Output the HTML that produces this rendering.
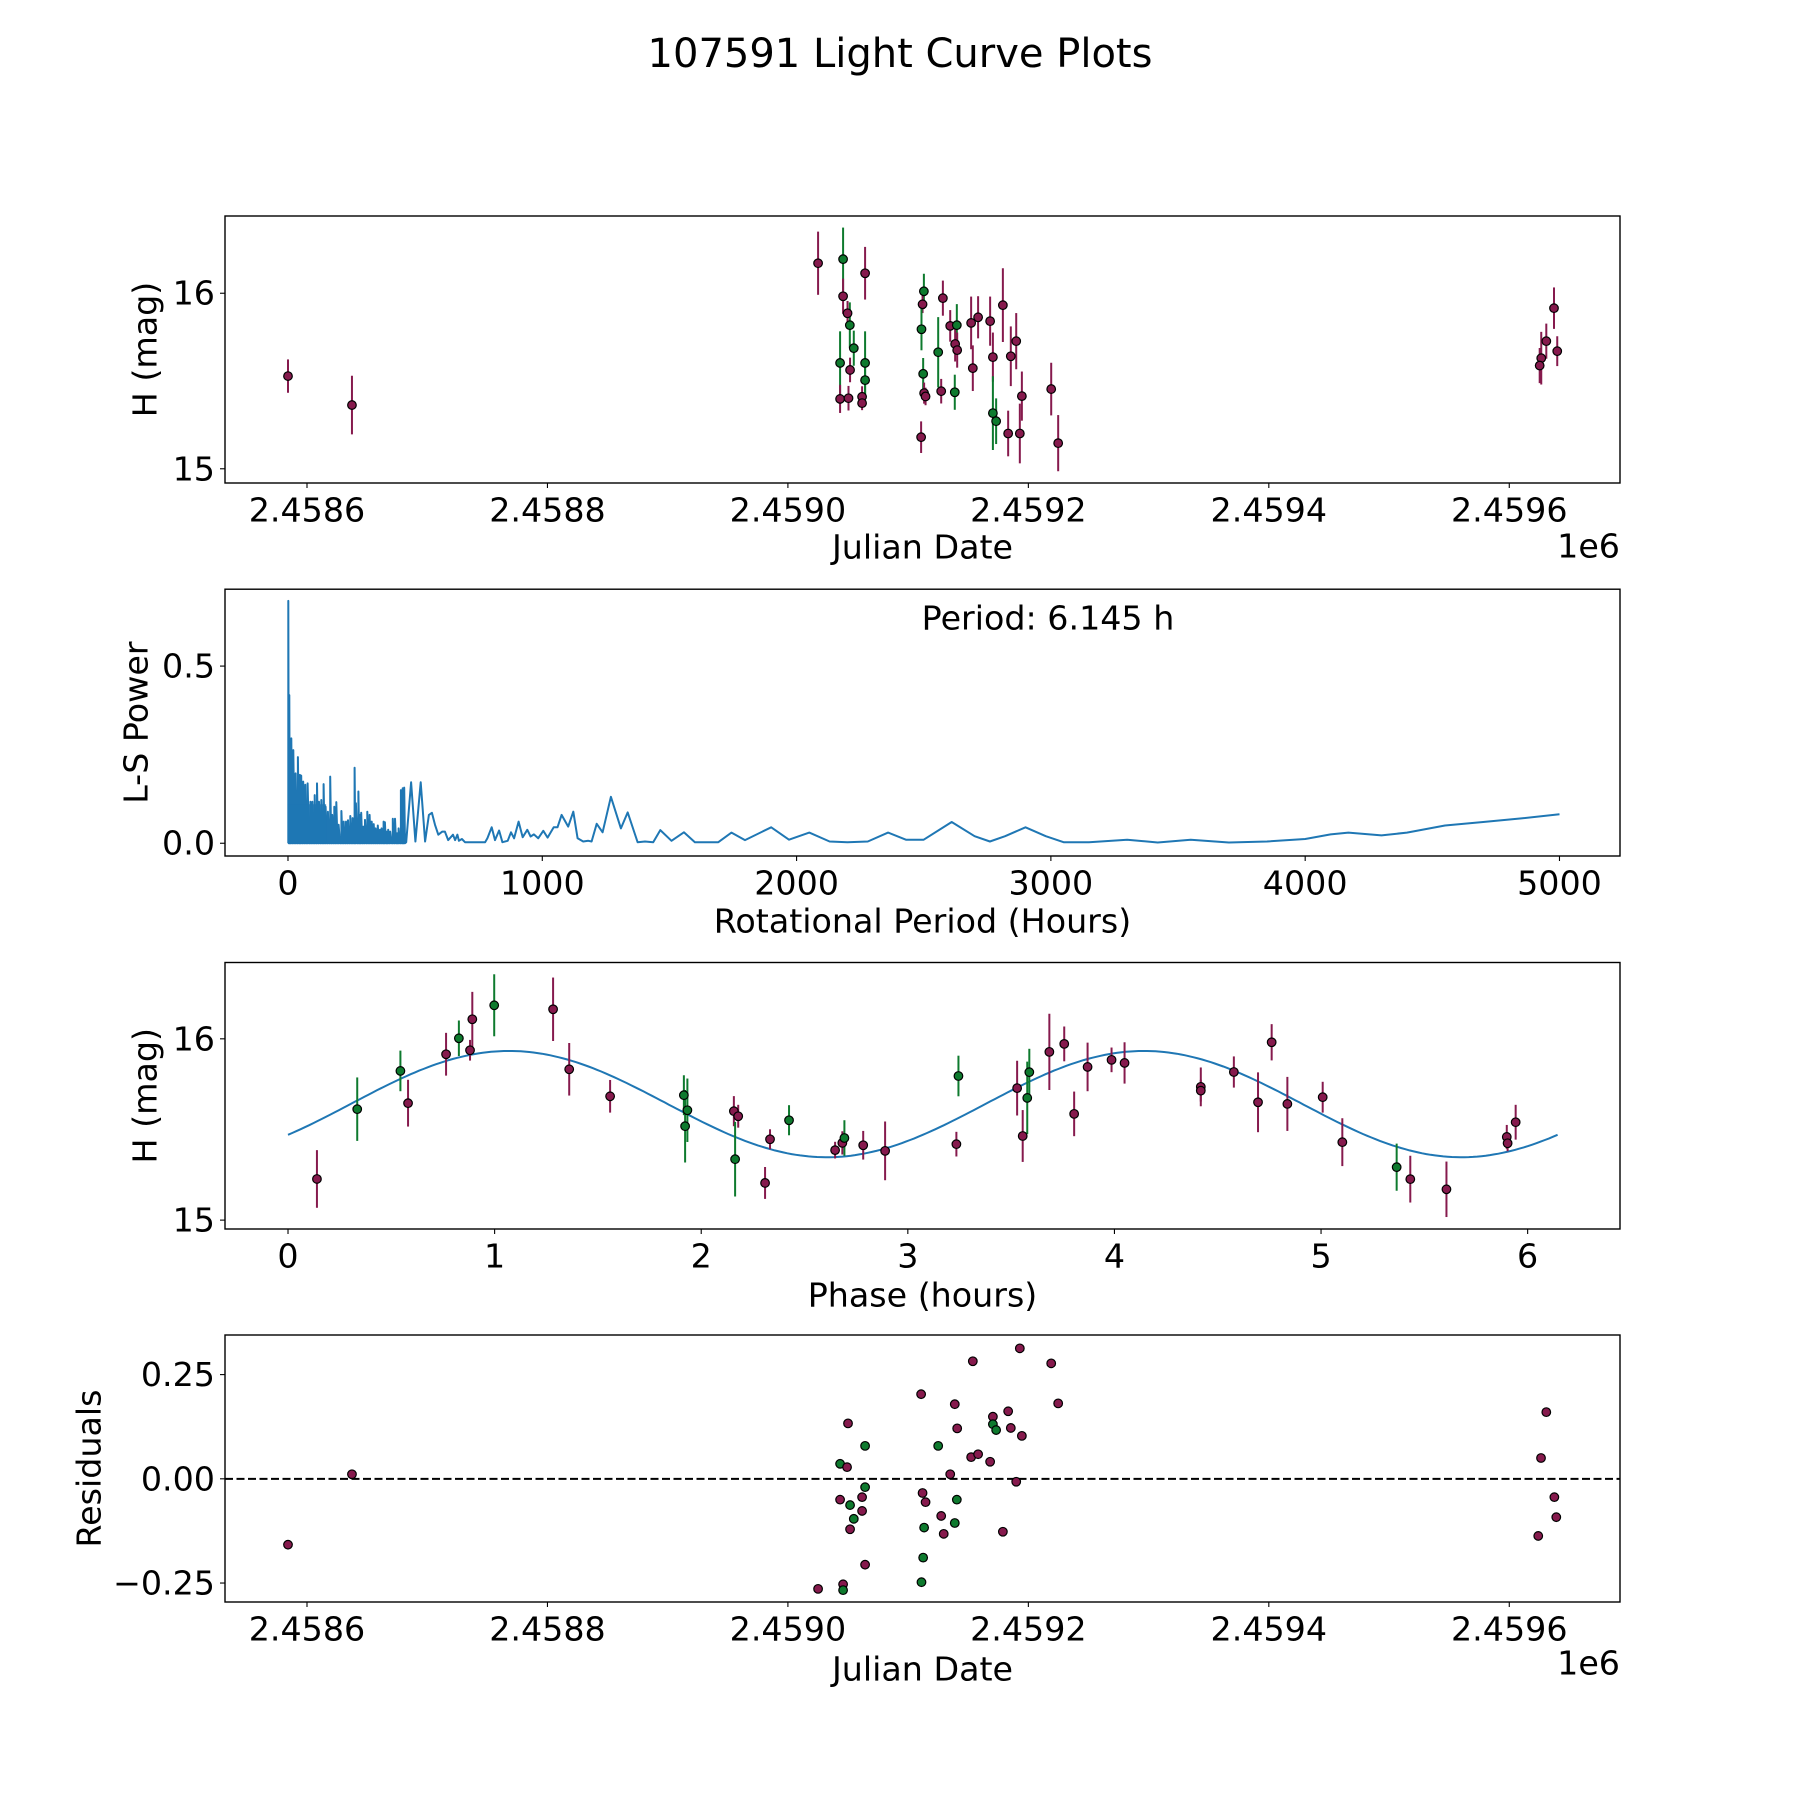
<!DOCTYPE html>
<html><head><meta charset="utf-8"><style>
html,body{margin:0;padding:0;background:#fff;}
svg{display:block;font-family:"DejaVu Sans","Liberation Sans",sans-serif;}
</style></head><body>
<svg id="fig" width="1800" height="1800" viewBox="0 0 1800 1800" xmlns="http://www.w3.org/2000/svg">
<rect width="1800" height="1800" fill="#fff"/>
<text x="900" y="54" font-size="40" text-anchor="middle" dominant-baseline="central">107591 Light Curve Plots</text>
</svg>
<script>
// ---- Panel 1 data: Julian date offsets (from 2458600), magnitudes, errors, filter ----
const jdBase = 2458600;
const lcDays = [-15.8,37.4,425.1,445.9,464.2,445.9,449.6,451.5,454.8,443.4,451.7,464.2,464.2,443.4,450.4,461.7,461.7,513.1,512.0,511.1,528.9,535.0,540.5,539.1,540.8,552.4,558.2,568.2,578.8,525.0,512.5,553.8,570.5,585.4,589.9,513.3,514.5,527.5,538.8,594.6,570.5,573.2,583.2,592.9,510.8,619.0,624.8,1037.2,1030.8,1039.9,1026.6,1025.3];
const lcMag = [15.528,15.363,16.171,16.194,16.114,15.983,15.886,15.818,15.687,15.603,15.563,15.603,15.505,15.398,15.402,15.410,15.374,16.011,15.937,15.795,15.972,15.814,15.818,15.711,15.676,15.831,15.863,15.841,15.932,15.664,15.541,15.573,15.636,15.641,15.727,15.431,15.412,15.442,15.436,15.414,15.317,15.271,15.201,15.201,15.180,15.454,15.146,15.915,15.727,15.670,15.630,15.588];
const lcErr = [0.095,0.167,0.18,0.18,0.15,0.1,0.07,0.13,0.1,0.18,0.07,0.18,0.1,0.08,0.07,0.06,0.04,0.1,0.05,0.12,0.1,0.09,0.12,0.1,0.1,0.15,0.12,0.14,0.21,0.2,0.09,0.13,0.14,0.17,0.16,0.06,0.05,0.07,0.1,0.14,0.21,0.13,0.13,0.17,0.09,0.15,0.16,0.118,0.1,0.085,0.15,0.1];
const lcBand = ["m","m","m","g","m","m","m","g","g","g","m","g","g","m","m","m","m","g","m","g","m","m","g","m","m","m","m","m","m","g","g","m","m","m","m","m","m","m","g","m","g","g","m","m","m","m","m","m","m","m","m","m"];

// ---- Panel 2 data: Lomb-Scargle periodogram ----
const spikePeriods = [1.3,5.2,9.2,13.1,21,30,39,47,52,60,68,77,88,96,105,114,122,131,140,148,157,166,174,182,190,199,210,219,228,236,245,254,262,267,277,283,288,296,303,312,321,329,337,345,353,362,368,376,381,388,394,402,412,421,429,435,444,451,457];
const spikePowers = [0.684,0.418,0.261,0.296,0.263,0.197,0.243,0.193,0.191,0.174,0.165,0.169,0.117,0.117,0.136,0.169,0.117,0.122,0.167,0.103,0.089,0.188,0.080,0.103,0.116,0.052,0.091,0.061,0.061,0.065,0.077,0.071,0.213,0.113,0.146,0.080,0.086,0.047,0.066,0.089,0.080,0.061,0.054,0.042,0.050,0.038,0.042,0.061,0.059,0.033,0.038,0.033,0.069,0.069,0.028,0.042,0.150,0.155,0.157];
const smoothPeriods = [465,484,501,522,539,554,566,578,591,607,617,630,649,657,666,672,684,696,775,784,801,814,830,843,864,877,889,907,923,941,954,967,984,1004,1021,1045,1060,1076,1102,1122,1139,1161,1181,1194,1214,1237,1270,1309,1336,1375,1404,1436,1464,1508,1557,1600,1692,1744,1797,1900,1970,2050,2130,2200,2280,2360,2430,2500,2610,2700,2760,2820,2900,2980,3050,3150,3300,3420,3550,3700,3850,4000,4100,4170,4300,4400,4550,4700,4850,5000];
const smoothPowers = [0.003,0.172,0.005,0.172,0.005,0.080,0.086,0.052,0.024,0.033,0.033,0.009,0.024,0.009,0.024,0.007,0.012,0.003,0.003,0.014,0.045,0.009,0.036,0.003,0.007,0.031,0.014,0.061,0.017,0.038,0.019,0.025,0.014,0.035,0.016,0.045,0.045,0.080,0.047,0.089,0.014,0.005,0.007,0.005,0.055,0.031,0.131,0.042,0.087,0.003,0.005,0.003,0.037,0.007,0.031,0.003,0.003,0.030,0.009,0.045,0.01,0.03,0.005,0.003,0.005,0.03,0.01,0.01,0.06,0.02,0.005,0.02,0.045,0.02,0.003,0.003,0.01,0.002,0.01,0.002,0.005,0.012,0.025,0.03,0.022,0.03,0.05,0.06,0.07,0.082];
const bestPeriod = "6.145";

// ---- Panel 3 data: phased light curve ----
const phHours = [0.140,0.335,0.544,0.581,0.765,0.827,0.881,0.892,0.998,1.283,1.361,1.559,1.916,1.933,1.922,2.158,2.179,2.164,2.309,2.333,2.425,2.648,2.683,2.693,2.784,2.890,3.245,3.235,3.529,3.556,3.588,3.578,3.685,3.757,3.805,3.870,3.986,4.049,4.418,4.418,4.578,4.695,4.761,4.837,5.008,5.103,5.366,5.432,5.607,5.899,5.903,5.942];
const phMag = [15.227,15.612,15.823,15.645,15.915,16.003,15.937,16.108,16.185,16.163,15.832,15.683,15.689,15.606,15.518,15.601,15.573,15.336,15.205,15.446,15.551,15.386,15.426,15.453,15.413,15.382,15.795,15.419,15.728,15.464,15.816,15.674,15.928,15.972,15.586,15.845,15.884,15.867,15.735,15.714,15.817,15.650,15.981,15.641,15.678,15.430,15.292,15.226,15.170,15.459,15.424,15.540];
const phErr = [0.159,0.175,0.112,0.129,0.118,0.098,0.057,0.151,0.171,0.175,0.145,0.09,0.11,0.175,0.2,0.083,0.063,0.206,0.088,0.055,0.083,0.046,0.064,0.098,0.079,0.162,0.112,0.068,0.151,0.143,0.129,0.2,0.21,0.096,0.123,0.134,0.068,0.114,0.107,0.06,0.086,0.165,0.1,0.149,0.085,0.132,0.13,0.129,0.153,0.066,0.044,0.096];
const phBand = ["m","g","g","m","m","g","m","m","g","m","m","m","g","g","g","m","m","g","m","m","g","m","m","g","m","m","g","m","m","m","g","g","m","m","m","m","m","m","m","m","m","m","m","m","m","m","g","m","m","m","m","m"];
// fitted model: mean, amplitude, period (h), phase offset, full span
const fitMean = 15.64, fitAmp = 0.293, fitPeriod = 3.0725, fitT0 = 0.302, fitSpan = 6.145;

// ---- Panel 4 data: residuals ----
const resDays = [-15.8,37.4,425.1,445.9,445.9,464.2,511.1,512.5,450.0,464.2,443.4,449.2,464.2,443.4,451.7,461.7,461.7,454.8,451.7,510.8,553.8,592.9,619.0,624.8,538.8,570.5,570.5,573.2,583.2,585.4,594.6,540.8,525.0,552.4,558.2,568.2,535.0,589.9,512.0,514.5,540.5,527.5,538.8,513.3,529.6,578.8,1030.8,1026.4,1037.5,1039.1,1024.1];
const resVals = [-0.158,0.011,-0.264,-0.253,-0.267,-0.206,-0.248,-0.189,0.133,0.079,0.036,0.028,-0.020,-0.050,-0.063,-0.044,-0.077,-0.096,-0.121,0.203,0.282,0.313,0.277,0.181,0.179,0.149,0.131,0.117,0.162,0.122,0.103,0.121,0.079,0.052,0.059,0.041,0.011,-0.007,-0.034,-0.056,-0.050,-0.089,-0.106,-0.117,-0.132,-0.127,0.160,0.050,-0.044,-0.092,-0.137];
const resBand = ["m","m","m","m","g","m","g","g","m","g","g","m","g","m","g","m","m","g","m","m","m","m","m","m","m","m","g","g","m","m","m","m","g","m","m","m","m","m","m","m","g","m","g","g","m","m","m","m","m","m","m"];

const jdTicks = [-0,200,400,600,800,1000];
const jdTickLabels = ["2.4586","2.4588","2.4590","2.4592","2.4594","2.4596"];
const magTicks = [15,16];
const magTickLabels = ["15","16"];
const perTicks = [0,1000,2000,3000,4000,5000];
const perTickLabels = ["0","1000","2000","3000","4000","5000"];
const powTicks = [0,0.5];
const powTickLabels = ["0.0","0.5"];
const phTicks = [0,1,2,3,4,5,6];
const phTickLabels = ["0","1","2","3","4","5","6"];
const resTicks = [-0.25,0,0.25];
const resTickLabels = ["\u22120.25","0.00","0.25"];

const NS = "http://www.w3.org/2000/svg";
const svg = document.getElementById("fig");
const COL = {m:"#861a4d", g:"#0e7a2e"};
function mk(tag, attrs, parent){const e=document.createElementNS(NS,tag);for(const k in attrs)e.setAttribute(k,attrs[k]);(parent||svg).appendChild(e);return e;}
function scale(d0,d1,p0,p1){return v=>p0+(v-d0)/(d1-d0)*(p1-p0);}

function panel(name, box, xl, yl, xt, xtl, yt, ytl, xlabel, ylabel, ylabelX, xlabelY){
  const g = mk("g",{});
  
  
  const X = scale(xl[0],xl[1],box[0],box[1]);
  const Y = scale(yl[0],yl[1],box[3],box[2]);
  const ticks = mk("g",{},g);
  
  
  xt.forEach((t,i)=>{
    const x=X(t);
    mk("line",{x1:x,x2:x,y1:box[3],y2:box[3]+5,stroke:"#000","stroke-width":1.1},ticks);
    const tx=mk("text",{x:x,y:box[3]+27,"font-size":33.3,"text-anchor":"middle","dominant-baseline":"central"},ticks);
    tx.textContent=xtl[i];
    
    
  });
  yt.forEach((t,i)=>{
    const y=Y(t);
    mk("line",{x1:box[0]-5,x2:box[0],y1:y,y2:y,stroke:"#000","stroke-width":1.1},ticks);
    const tx=mk("text",{x:box[0]-10,y:y,"font-size":33.3,"text-anchor":"end","dominant-baseline":"central"},ticks);
    tx.textContent=ytl[i];
    
    
  });
  const xlab=mk("text",{x:(box[0]+box[1])/2,y:xlabelY,"font-size":33.3,"text-anchor":"middle","dominant-baseline":"central"},g);
  xlab.textContent=xlabel;
  
  
  const cy=(box[2]+box[3])/2;
  const ylab=mk("text",{x:ylabelX,y:cy,"font-size":33.3,"text-anchor":"middle","dominant-baseline":"central",transform:`rotate(-90 ${ylabelX} ${cy})`},g);
  ylab.textContent=ylabel;
  
  
  const plot=mk("g",{},g);
  
  
  return {g,plot,X,Y,box};
}
function frame(p){
  const r=mk("rect",{x:p.box[0],y:p.box[2],width:p.box[1]-p.box[0],height:p.box[3]-p.box[2],fill:"none",stroke:"#000","stroke-width":1.4},p.g);
  
  
}
function errPoints(p, xs, ys, es, bands){
  xs.forEach((x,i)=>{
    const l=mk("line",{x1:p.X(x),x2:p.X(x),y1:p.Y(ys[i]-es[i]),y2:p.Y(ys[i]+es[i]),stroke:COL[bands[i]],"stroke-width":2},p.plot);
    
    
  });
  xs.forEach((x,i)=>{
    const c=mk("circle",{cx:p.X(x),cy:p.Y(ys[i]),r:4.3,fill:COL[bands[i]],stroke:"#000","stroke-width":1.2},p.plot);
    
    
  });
}

// Panel 1
const p1 = panel("light-curve-panel",[225,1620,216,483],[-68.2,1092.1],[14.919,16.44],jdTicks,jdTickLabels,magTicks,magTickLabels,"Julian Date","H (mag)",145,547);
errPoints(p1, lcDays, lcMag, lcErr, lcBand);
frame(p1);
const off1=mk("text",{x:1620,y:546,"font-size":33.3,"text-anchor":"end","dominant-baseline":"central"},p1.g);
off1.textContent="1e6";



// Panel 2
const p2 = panel("periodogram-panel",[225,1620,589.2,856],[-247.7,5238],[-0.036,0.717],perTicks,perTickLabels,powTicks,powTickLabels,"Rotational Period (Hours)","L-S Power",136,921);
let d="";
spikePeriods.forEach((t,i)=>{
  const x=p2.X(t);
  d += (i===0?"M":"L")+x.toFixed(1)+","+p2.Y(0).toFixed(1)+" L"+x.toFixed(1)+","+p2.Y(spikePowers[i]).toFixed(1)+" ";
  const nx = i<spikePeriods.length-1 ? (t+spikePeriods[i+1])/2 : t+3;
  d += "L"+p2.X(nx).toFixed(1)+","+p2.Y(0).toFixed(1)+" ";
});
smoothPeriods.forEach((t,i)=>{ d += "L"+p2.X(t).toFixed(1)+","+p2.Y(smoothPowers[i]).toFixed(1)+" "; });
const pg=mk("path",{d:d,fill:"none",stroke:"#1f77b4","stroke-width":2,"stroke-linejoin":"round"},p2.plot);


const fillRect=mk("rect",{x:p2.X(0),y:p2.Y(0.11),width:p2.X(150)-p2.X(0),height:p2.Y(0)-p2.Y(0.11),fill:"#1f77b4",opacity:0.85},p2.plot);


const ptxt=mk("text",{x:1048,y:618,"font-size":33.3,"text-anchor":"middle","dominant-baseline":"central"},p2.g);
ptxt.textContent="Period: "+bestPeriod+" h";


frame(p2);

// Panel 3
const p3 = panel("phase-panel",[225,1620,962.5,1229],[-0.305,6.447],[14.951,16.421],phTicks,phTickLabels,magTicks,magTickLabels,"Phase (hours)","H (mag)",145,1295);
let fd="";
for(let k=0;k<=300;k++){
  const t=fitSpan*k/300;
  const m=fitMean+fitAmp*Math.sin(2*Math.PI*(t-fitT0)/fitPeriod);
  fd+=(k?"L":"M")+p3.X(t).toFixed(1)+","+p3.Y(m).toFixed(1)+" ";
}
const fit=mk("path",{d:fd,fill:"none",stroke:"#1f77b4","stroke-width":2},p3.plot);


errPoints(p3, phHours, phMag, phErr, phBand);
frame(p3);

// Panel 4
const p4 = panel("residuals-panel",[225,1620,1335,1602],[-68.2,1092.1],[-0.2955,0.345],jdTicks,jdTickLabels,resTicks,resTickLabels,"Julian Date","Residuals",89,1669);
const zl=mk("line",{x1:225,x2:1620,y1:p4.Y(0),y2:p4.Y(0),stroke:"#000","stroke-width":2,"stroke-dasharray":"8,3.5"},p4.plot);


resDays.forEach((x,i)=>{
  const c=mk("circle",{cx:p4.X(x),cy:p4.Y(resVals[i]),r:4.3,fill:COL[resBand[i]],stroke:"#000","stroke-width":1.2},p4.plot);
  
  
});
frame(p4);
const off4=mk("text",{x:1620,y:1663,"font-size":33.3,"text-anchor":"end","dominant-baseline":"central"},p4.g);
off4.textContent="1e6";


</script>
</body></html>
